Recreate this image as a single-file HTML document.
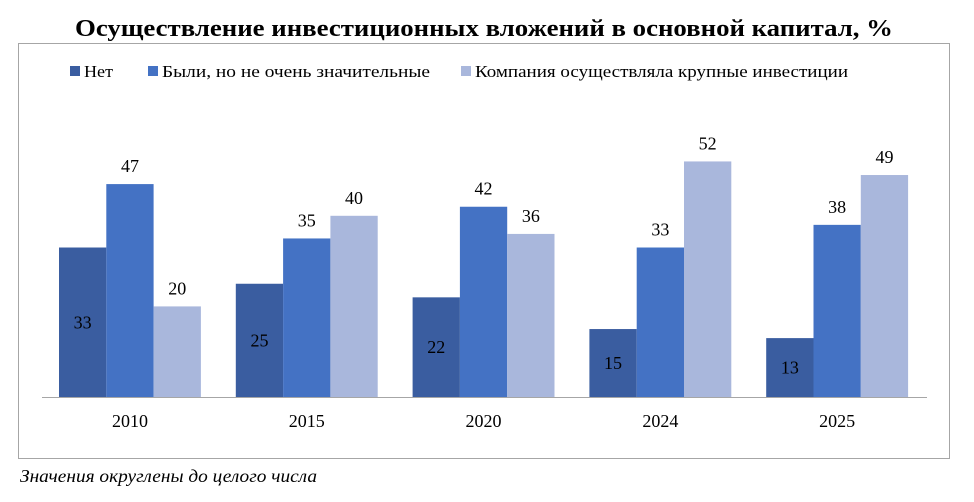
<!DOCTYPE html>
<html><head><meta charset="utf-8"><style>
body{margin:0;width:974px;height:497px;background:#fff;overflow:hidden;font-family:"Liberation Serif",serif;}
</style></head><body>
<svg width="974" height="497" xmlns="http://www.w3.org/2000/svg" font-family="Liberation Serif, serif">
<rect x="18.5" y="43.5" width="931" height="415" fill="#fff" stroke="#a6a6a6" stroke-width="1"/>
<text x="75" y="36" textLength="818" lengthAdjust="spacingAndGlyphs" font-size="24" font-weight="bold" fill="#000">Осуществление инвестиционных вложений в основной капитал, %</text>
<g font-size="17" fill="#000">
<rect x="70" y="66" width="10" height="10" fill="#3A5DA0"/><text x="84" y="77" textLength="29" lengthAdjust="spacingAndGlyphs">Нет</text>
<rect x="148" y="66" width="10" height="10" fill="#4472C4"/><text x="162" y="77" textLength="268" lengthAdjust="spacingAndGlyphs">Были, но не очень значительные</text>
<rect x="461" y="66" width="10" height="10" fill="#A9B7DC"/><text x="475" y="77" textLength="373" lengthAdjust="spacingAndGlyphs">Компания осуществляла крупные инвестиции</text>
</g>
<line x1="42" y1="397.5" x2="927" y2="397.5" stroke="#a6a6a6"/>
<g id="bars" font-size="18" text-anchor="middle"></g>
<text x="20" y="482" font-size="18" font-style="italic" fill="#000" textLength="297" lengthAdjust="spacingAndGlyphs">Значения округлены до целого числа</text>
</svg>
<script>
var d=[["2010",33,47,20],["2015",25,35,40],["2020",22,42,36],["2024",15,33,52],["2025",13,38,49]];
var c=["#3A5DA0","#4472C4","#A9B7DC"],s="",k=4.53,w=47.3;
d.forEach(function(r,i){var x0=59+i*176.8;
for(var j=0;j<3;j++){var v=r[j+1],h=v*k,x=x0+j*w,y=397-h;
s+='<rect x="'+x+'" y="'+y+'" width="'+w+'" height="'+h+'" fill="'+c[j]+'"/>';
if(j==0)s+='<text x="'+(x+w/2)+'" y="'+(397-h/2+6)+'">'+v+'</text>';
else s+='<text x="'+(x+w/2)+'" y="'+(y-12)+'">'+v+'</text>';}
s+='<text x="'+(x0+1.5*w)+'" y="427">'+r[0]+'</text>';});
document.getElementById("bars").innerHTML=s;
</script>
</body></html>
